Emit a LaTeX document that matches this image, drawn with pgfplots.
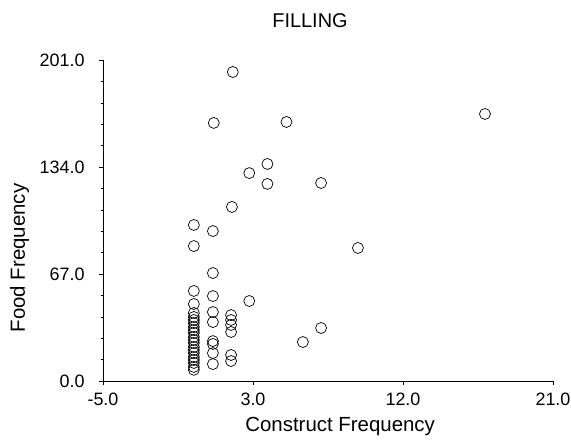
\documentclass[border=0pt]{standalone}
\usepackage{fontspec}
\setmainfont{Liberation Sans}
\usepackage{pgfplots}
\pgfplotsset{compat=1.18}

% Construct frequency vs. food frequency
\pgfplotstableread{
x      y
0.25   97.7
0.25   84.5
0.25   56.4
0.25   48.2
0.25   42.6
0.25   40.1
0.25   38.2
0.25   36.3
0.25   33.8
0.25   31.9
0.25   30.1
0.25   27.6
0.25   25.7
0.25   23.8
0.25   21.3
0.25   19.4
0.25   17.5
0.25   15.0
0.25   13.2
0.25   11.3
0.25   8.8
0.25   7.0
1.40   161.6
1.35   93.9
1.35   67.6
1.35   53.2
1.35   43.2
1.35   36.9
1.35   25.0
1.35   23.2
1.35   17.5
1.35   10.6
2.50   193.5
2.45   109.0
2.40   41.3
2.40   38.2
2.40   35.1
2.40   30.7
2.40   16.3
2.40   12.5
3.45   130.2
3.45   50.1
4.50   135.9
4.50   123.4
5.60   162.2
7.60   124.0
7.60   33.2
9.73   83.3
6.55   24.4
17.07  167.2
}\filling

\begin{document}
\begin{tikzpicture}
\path[use as bounding box] (0,0) rectangle (571bp,444bp);
\begin{axis}[
  at={(103bp,63bp)}, anchor=south west,
  scale only axis, width=450bp, height=321bp,
  xmin=-5, xmax=21, ymin=0, ymax=201,
  axis x line=bottom, axis y line=left,
  axis line style={-, line width=0.6pt, black},
  xtick={-5,3.6667,12.3333,21},
  xticklabels={-5.0,3.0,12.0,21.0},
  ytick={0,67,134,201},
  yticklabels={0.0,67.0,134.0,201.0},
  minor x tick num=4, minor y tick num=4,
  tick align=outside,
  major tick length=4bp, minor tick length=2.5bp,
  tick style={black, line width=0.5pt},
  ticklabel style={font=\fontsize{18}{20}\selectfont},
  xticklabel style={yshift=-4bp},
  yticklabel style={xshift=-11bp},
  /pgf/number format/assume math mode=true,
  title=FILLING,
  title style={at={(axis description cs:0.46,1)}, anchor=base, yshift=27bp,
    font=\fontsize{20}{22}\selectfont},
  xlabel={Construct Frequency},
  xlabel style={at={(axis description cs:0.527,0)}, anchor=base, yshift=-50bp,
    font=\fontsize{20.5}{22}\selectfont},
  ylabel={Food Frequency},
  ylabel style={at={(axis description cs:0,0.383)}, anchor=base, yshift=78bp,
    font=\fontsize{20.5}{22}\selectfont},
  clip=false,
]
\addplot[only marks, mark=o, mark size=5.5bp, mark options={black, line width=0.7pt}]
  table[x=x, y=y] {\filling};
\end{axis}
\end{tikzpicture}
\end{document}
